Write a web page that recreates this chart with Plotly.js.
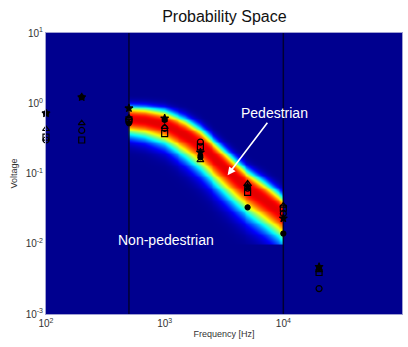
<!DOCTYPE html>
<html><head><meta charset="utf-8">
<script src="https://cdn.plot.ly/plotly-3.0.1.min.js"></script>
<style>html,body{margin:0;padding:0;background:#fff;}#chart{width:408px;height:347px;}</style>
</head><body><div id="chart"></div>
<script>
// Measured points (Frequency [Hz] vs Voltage)
const freqs = [100, 200, 500, 1000, 2000, 5000, 10000, 20000];
const filledCircle = [0.72, 1.22, 0.52, 0.58, 0.17, 0.033, 0.014, 0.0045];
const openCircle   = [0.30, 0.41, 0.57, 0.44, 0.28, 0.062, 0.027, 0.0023];
const triangle     = [0.43, 0.52, 0.62, 0.46, 0.155, 0.072, 0.035, 0.0042];
const square       = [0.33, 0.30, 0.58, 0.37, 0.24, 0.054, 0.032, 0.0039];
const star         = [0.72, 1.22, 0.85, 0.61, 0.20, 0.065, 0.023, 0.0047];

// Probability band: center voltage, upper / lower spread (decades)
const bandFreq   = [500, 700, 1000, 1500, 2000, 3000, 4000, 5000, 7000, 10000];
const bandCenter = [0.58, 0.55, 0.48, 0.34, 0.245, 0.13, 0.083, 0.060, 0.040, 0.025];
const bandUp     = [0.19, 0.20, 0.22, 0.25, 0.26, 0.27, 0.27, 0.27, 0.28, 0.28];
const bandDown   = [0.22, 0.24, 0.27, 0.32, 0.35, 0.37, 0.38, 0.38, 0.38, 0.38];
const bandFloor  = 0.01;
const bandTop    = 10;
const bandPeak   = 0.9;

// Decision boundaries
const boundaryFreq = [500, 10000];

// Tick labels
const xTickVals = [100, 1000, 10000, 100000];
const xTickText = ['10<sup>2</sup>', '10<sup>3</sup>', '10<sup>4</sup>', '10<sup>5</sup>'];
const yTickVals = [0.001, 0.01, 0.1, 1, 10];
const yTickText = ['10<sup>-3</sup>', '10<sup>-2</sup>', '10<sup>-1</sup>', '10<sup>0</sup>', '10<sup>1</sup>'];

// Title / labels
const titleText = 'Probability Space';
const xTitle = 'Frequency [Hz]';
const yTitle = 'Voltage';

function interpLog(xs, ys, x, logY) {
  const lx = Math.log10(x);
  const L = xs.map(Math.log10);
  let i = 0;
  while (i < L.length - 2 && lx > L[i + 1]) i++;
  const t = (lx - L[i]) / (L[i + 1] - L[i]);
  const a = logY ? Math.log10(ys[i]) : ys[i];
  const b = logY ? Math.log10(ys[i + 1]) : ys[i + 1];
  return a + t * (b - a);
}

const nx = 160, ny = 230;
const lx0 = Math.log10(bandFreq[0]), lx1 = Math.log10(bandFreq[bandFreq.length - 1]);
const ly0 = Math.log10(bandFloor), ly1 = Math.log10(bandTop);
const hx = [], hy = [], hz = [];
for (let i = 0; i < nx; i++) hx.push(Math.pow(10, lx0 + (lx1 - lx0) * i / (nx - 1)));
for (let j = 0; j < ny; j++) hy.push(Math.pow(10, ly0 + (ly1 - ly0) * j / (ny - 1)));
for (let j = 0; j < ny; j++) {
  const row = [];
  const ly = Math.log10(hy[j]);
  for (let i = 0; i < nx; i++) {
    const c = interpLog(bandFreq, bandCenter, hx[i], true);
    const diff = ly - c;
    let v;
    if (diff >= 0) {
      const w = interpLog(bandFreq, bandUp, hx[i], false);
      v = Math.exp(-Math.pow(diff / w, 3));
    } else {
      const w = interpLog(bandFreq, bandDown, hx[i], false);
      v = Math.exp(-Math.pow(-diff / w, 2));
    }
    row.push(bandPeak * v);
  }
  hz.push(row);
}

const jet = [
  [0, 'rgb(0,0,143)'], [0.125, 'rgb(0,0,255)'], [0.375, 'rgb(0,255,255)'],
  [0.625, 'rgb(255,255,0)'], [0.875, 'rgb(255,0,0)'], [1, 'rgb(128,0,0)']
];

const traces = [
  {type: 'heatmap', x: hx, y: hy, z: hz, colorscale: jet, zmin: 0, zmax: 1,
   showscale: false, hoverinfo: 'skip'},
  {type: 'scatter', mode: 'lines', x: [boundaryFreq[0], boundaryFreq[0]], y: [0.001, 10],
   line: {color: 'rgb(0,0,50)', width: 1.5}, showlegend: false},
  {type: 'scatter', mode: 'lines', x: [boundaryFreq[1], boundaryFreq[1]], y: [0.001, 10],
   line: {color: 'rgb(0,0,50)', width: 1.5}, showlegend: false}
];
const mk = (y, symbol, size) => ({type: 'scatter', mode: 'markers', x: freqs, y: y, showlegend: false,
  cliponaxis: false,
  marker: {symbol: symbol, size: size, color: 'black', line: {color: 'black', width: 1.2}}});
traces.push(mk(openCircle, 'circle-open', 6));
traces.push(mk(square, 'square-open', 6));
traces.push(mk(triangle, 'triangle-up-open', 6));
traces.push(mk(star, 'star', 6));
traces.push(mk(filledCircle, 'circle', 5));

const layout = {
  width: 408, height: 347,
  margin: {l: 46, r: 6, t: 33, b: 33},
  paper_bgcolor: 'white', plot_bgcolor: 'rgb(0,0,143)',
  font: {family: 'Liberation Sans, Arial, sans-serif', color: '#333'},
  title: {text: titleText, font: {size: 16, color: '#111'}, x: 0.55, xanchor: 'center', y: 0.97, yanchor: 'top'},
  xaxis: {type: 'log', range: [2, 5], tickvals: xTickVals, ticktext: xTickText, showgrid: false, zeroline: false,
    ticks: '', ticklen: 0, tickfont: {size: 10, color: '#333'},
    showline: true, linecolor: 'rgb(160,160,210)', mirror: true,
    title: {text: xTitle, font: {size: 9, color: '#333'}, standoff: 2}},
  yaxis: {type: 'log', range: [-3, 1], tickvals: yTickVals, ticktext: yTickText, showgrid: false, zeroline: false,
    ticks: '', ticklen: 0, tickfont: {size: 10, color: '#333'},
    showline: true, linecolor: 'rgb(160,160,210)', mirror: true,
    title: {text: yTitle, font: {size: 9, color: '#333'}, standoff: 6}},
  annotations: [
    {x: Math.log10(3390), y: Math.log10(0.0946), xref: 'x', yref: 'y', text: 'Pedestrian',
     showarrow: true, arrowhead: 2, arrowsize: 1, arrowwidth: 1.6, arrowcolor: 'white',
     ax: 47, ay: -62, font: {size: 14, color: 'white'}},
    {x: 3.008, y: -1.95, xref: 'x', yref: 'y', text: 'Non-pedestrian', showarrow: false,
     font: {size: 14, color: 'white'}}
  ]
};
Plotly.newPlot('chart', traces, layout, {displayModeBar: false, staticPlot: true});
</script></body></html>
